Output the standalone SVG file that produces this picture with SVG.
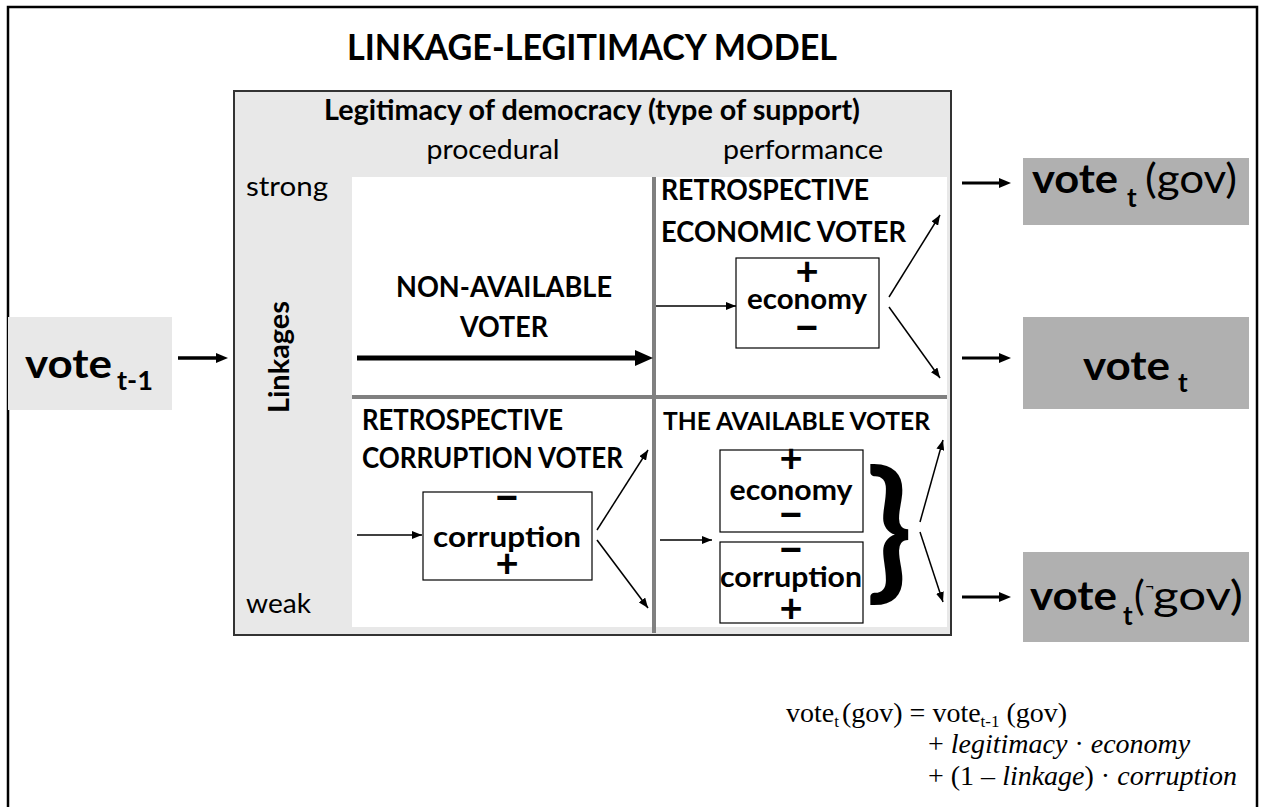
<svg xmlns="http://www.w3.org/2000/svg" width="1263" height="807" viewBox="0 0 1263 807">
<style>
.b{font-family:Lato,"Liberation Sans",sans-serif;font-weight:bold;fill:#000}
.r{font-family:Lato,"Liberation Sans",sans-serif;font-weight:normal;fill:#000}
.f{font-family:"Liberation Serif","Times New Roman",serif;font-size:28px;fill:#000}
.i{font-style:italic}
.thin{stroke:#000;stroke-width:1.5;fill:none}
.med{stroke:#000;stroke-width:3;fill:none}
.box{fill:#fff;stroke:#000;stroke-width:1.2}
.div{stroke:#808080;stroke-width:4}
.plus{font-size:40px}
.minus{font-size:47px}
.mid{text-anchor:middle}
</style>
<defs>
<marker id="ah" markerUnits="userSpaceOnUse" markerWidth="10" markerHeight="8" refX="10" refY="4" orient="auto"><path d="M0,0 L10,4 L0,8 z" fill="#000"/></marker>
<marker id="am" markerUnits="userSpaceOnUse" markerWidth="12" markerHeight="10" refX="1" refY="5" orient="auto"><path d="M0,0 L12,5 L0,10 z" fill="#000"/></marker>
<marker id="ab" markerUnits="userSpaceOnUse" markerWidth="18" markerHeight="16" refX="1" refY="8" orient="auto"><path d="M0,0 L18,8 L0,16 z" fill="#000"/></marker>
</defs>
<rect width="1263" height="807" fill="#fff"/>
<rect x="8" y="7" width="1249" height="840" fill="none" stroke="#000" stroke-width="2.5"/>

<text id="title" class="b mid" x="592" y="60" font-size="35.6" textLength="490" lengthAdjust="spacingAndGlyphs">LINKAGE-LEGITIMACY MODEL</text>

<g id="panel">
<rect x="234" y="91" width="717" height="544" fill="#e8e8e8" stroke="#333" stroke-width="2"/>
<rect x="352" y="177" width="595" height="450" fill="#fff"/>
<line class="div" x1="654" y1="177" x2="654" y2="633"/>
<line class="div" x1="352" y1="397" x2="947" y2="397"/>
<text class="b mid" x="592" y="120" font-size="27.6" textLength="536" lengthAdjust="spacingAndGlyphs">Legitimacy of democracy (type of support)</text>
<text class="r mid" x="493" y="159" font-size="26.7" textLength="133" lengthAdjust="spacingAndGlyphs">procedural</text>
<text class="r mid" x="803" y="159" font-size="26.7" textLength="160" lengthAdjust="spacingAndGlyphs">performance</text>
<text class="r" x="246" y="196" font-size="26.7" textLength="82" lengthAdjust="spacingAndGlyphs">strong</text>
<text class="r" x="246" y="613" font-size="26.7" textLength="65" lengthAdjust="spacingAndGlyphs">weak</text>
<text class="b mid" transform="translate(289 357) rotate(-90)" x="0" y="0" font-size="27.6" textLength="112" lengthAdjust="spacingAndGlyphs">Linkages</text>
</g>

<g id="non-available">
<text class="b mid" x="504" y="297" font-size="28" textLength="216" lengthAdjust="spacingAndGlyphs">NON-AVAILABLE</text>
<text class="b mid" x="504" y="337" font-size="28" textLength="88" lengthAdjust="spacingAndGlyphs">VOTER</text>
</g>

<g id="economic-voter">
<text class="b" x="661" y="200" font-size="28" textLength="208" lengthAdjust="spacingAndGlyphs">RETROSPECTIVE</text>
<text class="b" x="661" y="242" font-size="28" textLength="245" lengthAdjust="spacingAndGlyphs">ECONOMIC VOTER</text>
<rect class="box" x="736" y="258" width="143" height="90"/>
<text class="b mid plus" x="807" y="285">+</text>
<text class="b mid" x="807" y="309" font-size="28" textLength="120" lengthAdjust="spacingAndGlyphs">economy</text>
<text class="b mid minus" x="807" y="342">–</text>
</g>

<g id="corruption-voter">
<text class="b" x="362" y="430" font-size="28" textLength="201" lengthAdjust="spacingAndGlyphs">RETROSPECTIVE</text>
<text class="b" x="362" y="468" font-size="28" textLength="261" lengthAdjust="spacingAndGlyphs">CORRUPTION VOTER</text>
<rect class="box" x="423" y="492" width="169" height="88"/>
<text class="b mid minus" x="507" y="512">–</text>
<text class="b mid" x="507" y="547" font-size="28.5" textLength="148" lengthAdjust="spacingAndGlyphs">corruption</text>
<text class="b mid plus" x="507" y="577">+</text>
</g>

<g id="available-voter">
<text class="b" x="663" y="430" font-size="25" textLength="267" lengthAdjust="spacingAndGlyphs">THE AVAILABLE VOTER</text>
<rect class="box" x="720" y="450" width="143" height="82"/>
<text class="b mid plus" x="791" y="472">+</text>
<text class="b mid" x="791" y="500" font-size="28" textLength="123" lengthAdjust="spacingAndGlyphs">economy</text>
<text class="b mid minus" x="791" y="529">–</text>
<rect class="box" x="720" y="542" width="143" height="81"/>
<text class="b mid minus" x="791" y="564">–</text>
<text class="b mid" x="791" y="587" font-size="28" textLength="142" lengthAdjust="spacingAndGlyphs">corruption</text>
<text class="b mid plus" x="791" y="622">+</text>
<text class="b" x="866" y="582" font-size="152">}</text>
</g>

<g id="vote-prev">
<rect x="8" y="317" width="164" height="93" fill="#e8e8e8"/>
<text class="b" x="25" y="378" font-size="41" textLength="87" lengthAdjust="spacingAndGlyphs">vote</text>
<text class="b" x="117" y="390" font-size="26" textLength="36" lengthAdjust="spacingAndGlyphs">t-1</text>
</g>

<g id="vote-gov">
<rect x="1023" y="158" width="226" height="67" fill="#b0b0b0"/>
<text class="b" x="1032" y="193" font-size="41" textLength="86" lengthAdjust="spacingAndGlyphs">vote</text>
<text class="b" x="1127" y="207" font-size="26">t</text>
<text class="r" x="1145" y="193" font-size="40" textLength="92" lengthAdjust="spacingAndGlyphs">(gov)</text>
</g>

<g id="vote-t">
<rect x="1023" y="317" width="226" height="92" fill="#b0b0b0"/>
<text class="b" x="1083" y="380" font-size="41" textLength="87" lengthAdjust="spacingAndGlyphs">vote</text>
<text class="b" x="1178" y="392" font-size="26">t</text>
</g>

<g id="vote-notgov">
<rect x="1023" y="552" width="226" height="90" fill="#b0b0b0"/>
<text class="b" x="1030" y="610" font-size="41" textLength="87" lengthAdjust="spacingAndGlyphs">vote</text>
<text class="b" x="1123" y="625" font-size="26">t</text>
<text class="r" x="1134" y="610" font-size="40">(</text>
<text class="r" x="1145" y="592" font-size="16">¬</text>
<text class="r" x="1153" y="610" font-size="40" textLength="90" lengthAdjust="spacingAndGlyphs">gov)</text>
</g>

<g id="formula">
<text class="f" x="786" y="722">vote<tspan font-size="17" dy="5">t</tspan><tspan dy="-5" dx="3">(gov) = vote</tspan><tspan font-size="17" dy="5">t-1</tspan><tspan dy="-5"> (gov)</tspan></text>
<text class="f" x="928" y="753">+ <tspan class="i">legitimacy</tspan> · <tspan class="i">economy</tspan></text>
<text class="f" x="928" y="785">+ (1 – <tspan class="i">linkage</tspan>) · <tspan class="i">corruption</tspan></text>
</g>

<g id="connectors">
<line x1="178" y1="358" x2="217" y2="358" stroke="#000" stroke-width="3.5" marker-end="url(#am)"/>
<line x1="357" y1="358" x2="636" y2="358" stroke="#000" stroke-width="5" marker-end="url(#ab)"/>
<line class="thin" x1="656" y1="306" x2="736" y2="306" marker-end="url(#ah)"/>
<line class="thin" x1="889" y1="297" x2="940" y2="215" marker-end="url(#ah)"/>
<line class="thin" x1="889" y1="307" x2="940" y2="378" marker-end="url(#ah)"/>
<line class="thin" x1="357" y1="535" x2="422" y2="535" marker-end="url(#ah)"/>
<line class="thin" x1="597" y1="530" x2="648" y2="450" marker-end="url(#ah)"/>
<line class="thin" x1="597" y1="540" x2="648" y2="608" marker-end="url(#ah)"/>
<line class="thin" x1="660" y1="540" x2="712" y2="540" marker-end="url(#ah)"/>
<line class="thin" x1="920" y1="522" x2="943" y2="440" marker-end="url(#ah)"/>
<line class="thin" x1="920" y1="532" x2="943" y2="602" marker-end="url(#ah)"/>
<line x1="962" y1="183" x2="1000" y2="183" class="med" marker-end="url(#am)"/>
<line x1="962" y1="358" x2="1000" y2="358" class="med" marker-end="url(#am)"/>
<line x1="962" y1="597" x2="1000" y2="597" class="med" marker-end="url(#am)"/>
</g>
</svg>
